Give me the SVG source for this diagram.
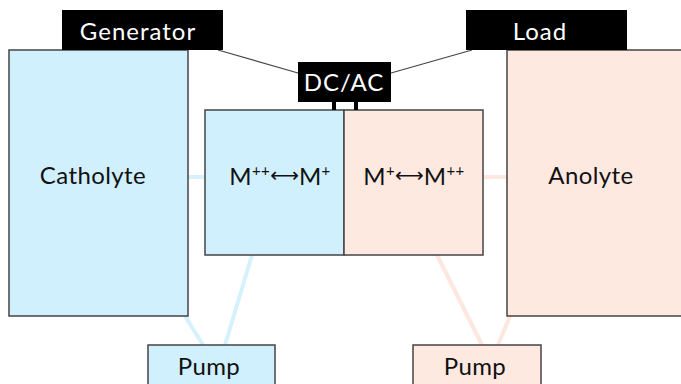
<svg xmlns="http://www.w3.org/2000/svg" width="681" height="384" viewBox="0 0 681 384">
<style>
.blue{fill:#cff0fc;stroke:#444;stroke-width:1.5}
.pink{fill:#fee9e1;stroke:#444;stroke-width:1.5}
.blk{fill:#000}
.wire{stroke:#444;stroke-width:1.2;fill:none}
.pb{stroke:#d5f2fc;stroke-width:4;fill:none}
.pp{stroke:#fde7de;stroke-width:4;fill:none}
text{font-family:Lato,"Open Sans","DejaVu Sans",sans-serif;text-anchor:middle;font-size:24px;letter-spacing:0.4px}
.t{fill:#111}
.w{fill:#fff}
.s{font-size:15px}
.a{font-family:"DejaVu Sans",sans-serif;font-size:20px;letter-spacing:0}
</style>
<rect width="681" height="384" fill="#fff"/>
<g id="connectors">
<line class="pb" x1="188" y1="177" x2="205" y2="177"/>
<line class="pp" x1="483" y1="177" x2="507" y2="177"/>
<line class="pb" x1="185" y1="316" x2="203" y2="345"/>
<line class="pb" x1="252" y1="255" x2="225" y2="345"/>
<line class="pp" x1="437" y1="255" x2="482" y2="345"/>
<line class="pp" x1="510" y1="316" x2="498" y2="345"/>
<line class="wire" x1="218" y1="50" x2="298" y2="73"/>
<line class="wire" x1="391" y1="73" x2="472" y2="50"/>
</g>
<g id="catholyte">
<rect class="blue" x="9" y="50" width="179" height="266"/>
<text class="t" x="93" y="184">Catholyte</text>
</g>
<g id="anolyte">
<rect class="pink" x="507" y="50" width="180" height="266"/>
<text class="t" x="591" y="184">Anolyte</text>
</g>
<g id="generator">
<rect class="blk" x="62" y="10" width="161" height="40"/>
<text class="w" x="138" y="40" style="letter-spacing:1px">Generator</text>
</g>
<g id="load">
<rect class="blk" x="466" y="10" width="161" height="40"/>
<text class="w" x="540" y="40" style="letter-spacing:1px">Load</text>
</g>
<g id="cell-left">
<rect class="blue" x="205" y="110" width="139" height="145"/>
<text class="t" x="280" y="185">M<tspan class="s" dy="-9">++</tspan><tspan class="a" dy="6">⟷</tspan><tspan dy="3">M</tspan><tspan class="s" dy="-9">+</tspan></text>
</g>
<g id="cell-right">
<rect class="pink" x="344" y="110" width="139" height="145"/>
<text class="t" x="414" y="185">M<tspan class="s" dy="-9">+</tspan><tspan class="a" dy="6">⟷</tspan><tspan dy="3">M</tspan><tspan class="s" dy="-9">++</tspan></text>
</g>
<g id="dcac">
<rect class="blk" x="298" y="62" width="93" height="40"/>
<rect class="blk" x="332" y="101" width="4" height="9"/>
<rect class="blk" x="354" y="101" width="4" height="9"/>
<text class="w" x="344" y="91" style="letter-spacing:1px">DC/AC</text>
</g>
<g id="pump-left">
<rect class="blue" x="148" y="345" width="127" height="45"/>
<text class="t" x="209" y="375">Pump</text>
</g>
<g id="pump-right">
<rect class="pink" x="413" y="345" width="128" height="45"/>
<text class="t" x="475" y="375">Pump</text>
</g>
</svg>
